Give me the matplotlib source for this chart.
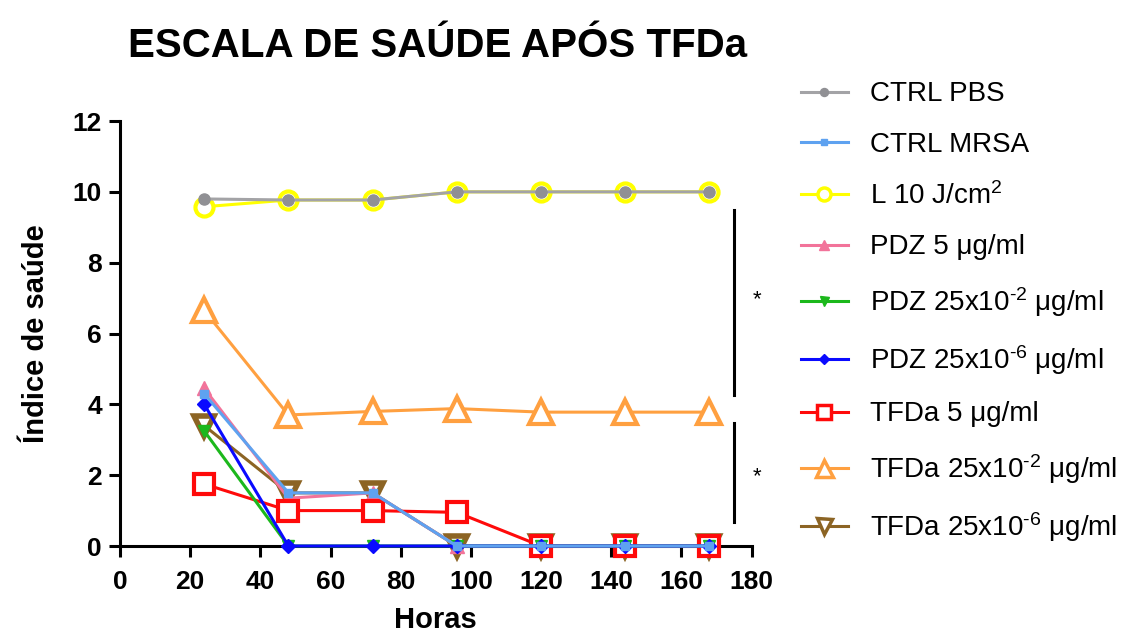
import matplotlib
matplotlib.use("Agg")
import matplotlib.pyplot as plt
from matplotlib.lines import Line2D

plt.rcParams["font.family"] = ["Liberation Sans", "DejaVu Sans"]
plt.rcParams["mathtext.default"] = "regular"

horas = [24, 48, 72, 96, 120, 144, 168]

ctrl_pbs = [9.8, 9.77, 9.77, 10, 10, 10, 10]
ctrl_mrsa = [4.3, 1.5, 1.5, 0, 0, 0, 0]
laser_10 = [9.58, 9.77, 9.77, 10, 10, 10, 10]
pdz_5 = [4.45, 1.35, 1.5, 0, 0, 0, 0]
pdz_25e2 = [3.25, 0, 0, 0, 0, 0, 0]
pdz_25e6 = [4.0, 0, 0, 0, 0, 0, 0]
tfda_5 = [1.75, 1.0, 1.0, 0.95, 0, 0, 0]
tfda_25e2 = [6.65, 3.7, 3.8, 3.88, 3.78, 3.78, 3.78]
tfda_25e6 = [3.4, 1.5, 1.5, 0, 0, 0, 0]

labels = [
    "CTRL PBS",
    "CTRL MRSA",
    "L 10 J/cm$^{2}$",
    "PDZ 5 μg/ml",
    "PDZ 25x10$^{\u20102}$ μg/ml",
    "PDZ 25x10$^{\u20106}$ μg/ml",
    "TFDa 5 μg/ml",
    "TFDa 25x10$^{\u20102}$ μg/ml",
    "TFDa 25x10$^{\u20106}$ μg/ml",
]

fig = plt.figure(figsize=(11.36, 6.38), dpi=100)
ax = fig.add_axes([0.1056, 0.1442, 0.556, 0.6661])

styles = {
    "CTRL PBS": dict(color="#a3a3a6", marker="o", ms=8, mfc="#909094", mec="#909094", z=4),
    "CTRL MRSA": dict(color="#5ea2f0", marker="s", ms=6, mfc="#5ea2f0", mec="#5ea2f0", z=12),
    "L 10": dict(color="#ffff00", marker="o", ms=13, mfc="white", mec="#ffff00", mew=3, z=3),
    "PDZ 5": dict(color="#f2739a", marker="^", ms=10, mfc="#f2739a", mec="#f2739a", z=7),
    "PDZ 25e2": dict(color="#1cb81c", marker="v", ms=9, mfc="#1cb81c", mec="#1cb81c", z=10),
    "PDZ 25e6": dict(color="#0a0aff", marker="D", ms=7, mfc="#0a0aff", mec="#0a0aff", z=11),
    "TFDa 5": dict(color="#ff0a0a", marker="s", ms=14, mfc="white", mec="#ff0a0a", mew=3, z=8),
    "TFDa 25e2": dict(color="#ffa040", marker="^", ms=17, mfc="white", mec="#ffa040", mew=3, z=5),
    "TFDa 25e6": dict(color="#8c6424", marker="v", ms=15, mfc="white", mec="#8c6424", mew=4, z=6),
}

series = [
    ("CTRL PBS", ctrl_pbs),
    ("CTRL MRSA", ctrl_mrsa),
    ("L 10", laser_10),
    ("PDZ 5", pdz_5),
    ("PDZ 25e2", pdz_25e2),
    ("PDZ 25e6", pdz_25e6),
    ("TFDa 5", tfda_5),
    ("TFDa 25e2", tfda_25e2),
    ("TFDa 25e6", tfda_25e6),
]

for (key, vals), lab in zip(series, labels):
    s = styles[key]
    ax.plot(horas, vals, color=s["color"], lw=2.2, marker=s["marker"],
            ms=s["ms"], mfc=s["mfc"], mec=s["mec"], mew=s.get("mew", 1),
            zorder=s["z"], clip_on=False, label=lab)

# legend handles use smaller markers
leg_handles = []
for (key, _), lab in zip(series, labels):
    s = styles[key]
    leg_handles.append(Line2D([], [], color=s["color"], lw=2.2, marker=s["marker"],
                              ms=s["ms"] * 0.72, mfc=s["mfc"],
                              mec=s["mec"], mew=min(s.get("mew", 1), 2.5)))

ax.set_xlim(0, 180)
ax.set_ylim(0, 12)
ax.set_xticks(range(0, 181, 20))
ax.set_yticks(range(0, 13, 2))
for sp in ["top", "right"]:
    ax.spines[sp].set_visible(False)
for sp in ["left", "bottom"]:
    ax.spines[sp].set_linewidth(2.2)
ax.tick_params(axis="both", which="major", length=8, width=2.2, direction="out",
               labelsize=19, pad=5)
ax.tick_params(axis="x", pad=9)
for t in ax.get_xticklabels() + ax.get_yticklabels():
    t.set_fontweight("bold")

ax.set_xlabel("Horas", fontsize=21, fontweight="bold", labelpad=9)
ax.set_ylabel("Índice de saúde", fontsize=21, fontweight="bold", labelpad=16)
fig.text(0.385, 0.928, "ESCALA DE SAÚDE APÓS TFDa", ha="center", va="center",
         fontsize=29, fontweight="bold")

# significance brackets
ax.plot([175, 175], [4.27, 9.5], color="black", lw=2.2, clip_on=False)
ax.plot([175, 175], [0.68, 3.47], color="black", lw=2.2, clip_on=False)
ax.text(181.5, 6.95, "*", fontsize=16, ha="center", va="center")
ax.text(181.5, 1.95, "*", fontsize=16, ha="center", va="center")

fig.legend(leg_handles, labels, loc="upper left", bbox_to_anchor=(0.695, 0.89),
           frameon=False, fontsize=20, handlelength=1.7, handletextpad=0.8,
           labelspacing=0.88, borderaxespad=0)

fig.savefig("out.png", dpi=100)
